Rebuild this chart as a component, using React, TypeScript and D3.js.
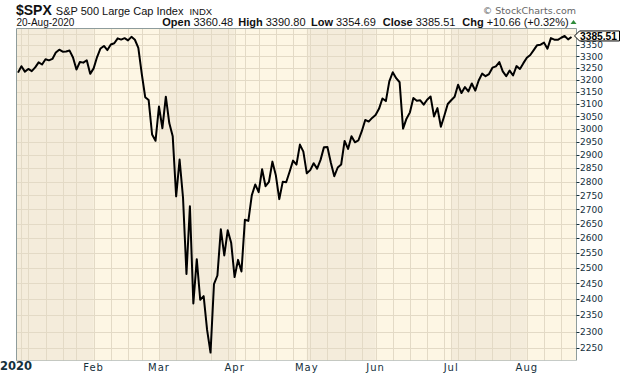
import React from "react";
import * as d3 from "d3";

// Daily closes, $SPX, 31-Dec-2019 .. 20-Aug-2020
const closesDec = [3230.78];
const closesJan = [3257.85, 3234.85, 3246.28, 3237.18, 3253.05, 3274.7, 3265.35, 3288.13, 3283.15, 3289.29, 3316.81, 3329.62, 3320.79, 3321.75, 3325.54, 3295.47, 3243.63, 3276.24, 3273.4, 3283.66, 3225.52];
const closesFeb = [3248.92, 3297.59, 3334.69, 3345.78, 3327.71, 3352.09, 3357.75, 3379.45, 3373.94, 3380.16, 3370.29, 3386.15, 3373.23, 3337.75, 3225.89, 3128.21, 3116.39, 2978.76, 2954.22];
const closesMar = [3090.23, 3003.37, 3130.12, 3023.94, 2972.37, 2746.56, 2882.23, 2741.38, 2480.64, 2711.02, 2386.13, 2529.19, 2398.1, 2409.39, 2304.92, 2237.4, 2447.33, 2475.56, 2630.07, 2541.47, 2626.65, 2584.59];
const closesApr = [2470.5, 2526.9, 2488.65, 2663.68, 2659.41, 2749.98, 2789.82, 2761.63, 2846.06, 2783.36, 2799.55, 2874.56, 2823.16, 2736.56, 2799.31, 2797.8, 2836.74, 2878.48, 2863.39, 2939.51, 2912.43];
const closesMay = [2830.71, 2842.74, 2868.44, 2848.42, 2881.19, 2929.8, 2930.32, 2870.12, 2820.0, 2852.5, 2863.7, 2953.91, 2922.94, 2971.61, 2948.51, 2955.45, 2991.77, 3036.13, 3029.73, 3044.31];
const closesJun = [3055.73, 3080.82, 3122.87, 3112.35, 3193.93, 3232.39, 3207.18, 3190.14, 3002.1, 3041.31, 3066.59, 3124.74, 3113.49, 3115.34, 3097.74, 3117.86, 3131.29, 3050.33, 3083.76, 3009.05, 3053.24, 3100.29];
const closesJul = [3115.86, 3130.01, 3179.72, 3145.32, 3169.94, 3152.05, 3185.04, 3155.22, 3197.52, 3226.56, 3215.57, 3224.73, 3251.84, 3257.3, 3276.02, 3235.66, 3215.63, 3239.41, 3218.44, 3258.44, 3246.22, 3271.12];
const closesAug = [3294.61, 3306.51, 3327.77, 3349.16, 3351.28, 3360.47, 3333.69, 3380.35, 3373.43, 3372.85, 3381.99, 3389.78, 3374.85, 3385.51];

const holidays = ["2020-01-01", "2020-01-20", "2020-02-17", "2020-04-10", "2020-05-25", "2020-07-03"];
const monthLabels = ["2020", "Feb", "Mar", "Apr", "May", "Jun", "Jul", "Aug"];
const yTickValues = [2250, 2300, 2350, 2400, 2450, 2500, 2550, 2600, 2650, 2700, 2750, 2800, 2850, 2900, 2950, 3000, 3050, 3100, 3150, 3200, 3250, 3300, 3350];
const yGridValues = [...yTickValues, 3400];

const header = { symbol: "$SPX", name: "S&P 500 Large Cap Index", exch: "INDX", date: "20-Aug-2020" };
const stats = [
  { label: "Open", value: "3360.48" },
  { label: "High", value: "3390.80" },
  { label: "Low", value: "3354.69" },
  { label: "Close", value: "3385.51" },
  { label: "Chg", value: "+10.66 (+0.32%)" },
];
const statX = [162.3, 238.3, 311, 382.7, 462.3];

const closes = [...closesDec, ...closesJan, ...closesFeb, ...closesMar, ...closesApr, ...closesMay, ...closesJun, ...closesJul, ...closesAug];

const fmt = d3.timeFormat("%Y-%m-%d");
const dates = d3.timeDay
  .range(new Date(2019, 11, 31), new Date(2020, 7, 21))
  .filter((d) => d.getDay() !== 0 && d.getDay() !== 6 && !holidays.includes(fmt(d)));

const W = 620;
const H = 376;
const P = { l: 16.5, t: 28.5, r: 576.5, b: 360.5 };

const LIGHT = "#fdf6e4";
const DARK = "#f4ecdb";
const GRID = "#e3dac6";
const BORDER = "#8e9c9c";
const AXIS_TEXT = "#14303c";

export default function App() {
  const n = closes.length;
  const x = d3.scaleLinear().domain([0, n - 1]).range([18, 18 + (n - 1) * 3.438]);
  const y = d3.scaleLog().domain([2250, 3350]).range([348.3, 45]);

  const monthStarts: number[] = [];
  const weekStarts: number[] = [];
  dates.forEach((d, i) => {
    if (i === 0) return;
    const p = dates[i - 1];
    if (d.getMonth() !== p.getMonth()) monthStarts.push(i);
    if (+d3.timeMonday.floor(d) !== +d3.timeMonday.floor(p)) weekStarts.push(i);
  });

  const bands = monthStarts.map((idx, m) => {
    const x0 = m === 0 ? P.l : x(idx);
    const x1 = m === monthStarts.length - 1 ? P.r : x(monthStarts[m + 1]);
    return { x0, x1, dark: m % 2 === 0 };
  });

  const line = d3
    .line<number>()
    .x((_, i) => x(i))
    .y((v) => y(v));

  const vLines = Array.from(new Set([...weekStarts, ...monthStarts])).sort((a, b) => a - b);
  const last = closes[n - 1];
  const ly = y(last) - 1;

  return (
    <svg width={W} height={H} style={{ position: "absolute", left: 0, top: 0 }}>
      <defs>
        <clipPath id="plotClip">
          <rect x={P.l} y={P.t} width={P.r - P.l} height={P.b - P.t} />
        </clipPath>
      </defs>
      <rect x={0} y={0} width={W} height={H} fill="#ffffff" />

      {/* header */}
      <text x={16} y={15} fontFamily="Liberation Sans, Arial, sans-serif" fill="#111">
        <tspan fontWeight="bold" fontSize={14}>{header.symbol}</tspan>
        <tspan dx={4} fontSize={11}>{header.name}</tspan>
        <tspan dx={6} fontSize={9.5}>{header.exch}</tspan>
      </text>
      <text x={16.5} y={26} fontFamily="Liberation Sans, Arial, sans-serif" fontSize={10} fill="#111">
        {header.date}
      </text>
      {stats.map((s, i) => (
        <text key={s.label} x={statX[i]} y={26} fontFamily="Liberation Sans, Arial, sans-serif" fontSize={11} fill="#111">
          <tspan fontWeight="bold">{s.label}</tspan>
          <tspan dx={3}>{s.value}</tspan>
        </text>
      ))}
      <path d="M570.5,24 L573.5,20 L576.5,24 Z" fill="#2e8b3a" />
      <text x={576} y={14} textAnchor="end" fontFamily="DejaVu Sans, sans-serif" fontSize={9.5} fill="#666">
        © StockCharts.com
      </text>

      {/* plot background */}
      <rect x={P.l} y={P.t} width={P.r - P.l} height={P.b - P.t} fill={LIGHT} />
      {bands.map((b, i) =>
        b.dark ? <rect key={i} x={b.x0} y={P.t} width={b.x1 - b.x0} height={P.b - P.t} fill={DARK} /> : null
      )}
      <g clipPath="url(#plotClip)">
        {yGridValues.map((v) => (
          <line key={v} x1={P.l} x2={P.r} y1={Math.round(y(v)) + 0.5} y2={Math.round(y(v)) + 0.5} stroke={GRID} strokeWidth={1} />
        ))}
        {vLines.map((i) => (
          <line key={i} x1={Math.round(x(i)) + 0.5} x2={Math.round(x(i)) + 0.5} y1={P.t} y2={P.b} stroke={GRID} strokeWidth={1} />
        ))}
        <path d={line(closes) || ""} fill="none" stroke="#000" strokeWidth={2} strokeLinejoin="round" />
      </g>

      {/* borders */}
      <line x1={P.l} x2={P.r} y1={P.t} y2={P.t} stroke={BORDER} />
      <line x1={P.l} x2={P.l} y1={P.t} y2={P.b} stroke={BORDER} />
      <line x1={P.r} x2={P.r} y1={P.t} y2={P.b} stroke={BORDER} />
      <line x1={P.l} x2={P.r} y1={P.b} y2={P.b} stroke={BORDER} strokeDasharray="1,1" />

      {/* y axis */}
      {yTickValues.map((v) => (
        <g key={v}>
          <line x1={P.r} x2={P.r + 3} y1={Math.round(y(v)) + 0.5} y2={Math.round(y(v)) + 0.5} stroke={AXIS_TEXT} />
          <text x={580} y={y(v)} dy="0.35em" fontFamily="DejaVu Sans, sans-serif" fontSize={9} fill={AXIS_TEXT}>
            {v}
          </text>
        </g>
      ))}

      {/* x axis */}
      {monthStarts.map((idx, m) =>
        m === 0 ? (
          <text key={m} x={0} y={370} fontFamily="DejaVu Sans, sans-serif" fontWeight="bold" fontSize={11.5} fill={AXIS_TEXT}>
            {monthLabels[m]}
          </text>
        ) : (
          <text key={m} x={x(idx)} y={370.5} textAnchor="middle" letterSpacing={1} fontFamily="DejaVu Sans, sans-serif" fontSize={10} fill={AXIS_TEXT}>
            {monthLabels[m]}
          </text>
        )
      )}

      {/* last price label */}
      <path
        d={`M${P.r - 2},${ly} L${P.r + 3},${ly - 5} L619.5,${ly - 5} L619.5,${ly + 5} L${P.r + 3},${ly + 5} Z`}
        fill="#fffdf5"
        stroke="#000"
        strokeWidth={1}
      />
      <text x={580} y={ly} dy="0.36em" fontFamily="Liberation Sans, Arial, sans-serif" fontWeight="bold" fontSize={10} textLength={37} lengthAdjust="spacingAndGlyphs" fill="#000">
        {last.toFixed(2)}
      </text>
    </svg>
  );
}
